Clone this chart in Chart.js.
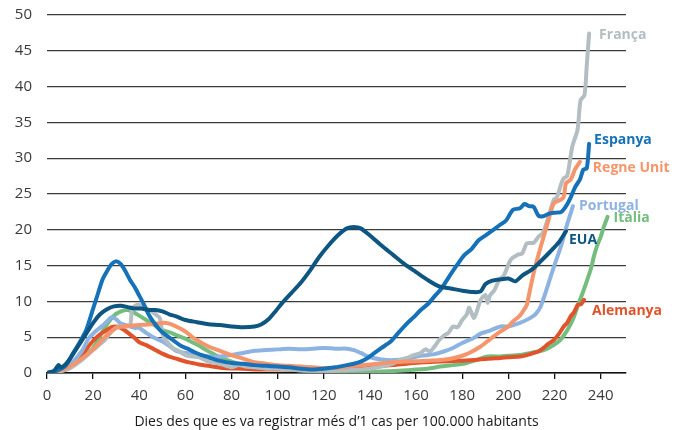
<!DOCTYPE html>
<html>
<head>
<meta charset="utf-8">
<script src="https://cdn.jsdelivr.net/npm/chart.js@4/dist/chart.umd.min.js"></script>
<style>
html,body{margin:0;padding:0;background:#fff;}
#wrap{width:688px;height:430px;}
</style>
</head>
<body>
<div id="wrap"><canvas id="c" width="688" height="430"></canvas></div>
<script>
// ---- data (days since >1 case per 100,000 inhabitants, cases per 100,000) ----
const yTicks = [0,5,10,15,20,25,30,35,40,45,50];
const xTicks = [0,20,40,60,80,100,120,140,160,180,200,220,240];

const euaDays = [0,3,5,6,8,10,13,16,20,23,26,29,32,35,38,41,44,47,50,53,56,60,65,70,75,80,85,90,93,96,99,102,106,110,114,118,122,126,130,133,136,140,145,150,155,160,165,170,175,180,185,188,190,193,197,200,203,206,210,214,218,222,225];
const euaVals = [0,0.3,1.1,0.8,1.2,2,3.5,5,7,8.2,8.9,9.3,9.4,9.2,9.0,9.0,8.8,8.8,8.6,8.2,7.9,7.4,7.1,6.8,6.7,6.5,6.4,6.5,6.8,7.5,8.6,9.8,11.2,12.6,14.3,16.2,17.8,19.2,20.2,20.4,20.2,19.2,17.8,16.5,15.2,14.1,13.0,12.1,11.8,11.5,11.3,11.4,12.4,12.9,13.1,13.2,12.8,13.6,14.4,15.6,16.9,18.3,19.8];

const espDays = [0,4,8,11,14,17,20,22,24,26,28,30,32,34,36,38,40,42,44,46,49,52,55,58,61,64,67,70,75,80,85,90,95,100,105,110,115,120,125,130,133,136,139,142,145,149,152,156,159,162,165,168,171,174,178,181,184,187,190,193,196,199,202,205,207,209,211,213,215,218,221,223,225,227,229,231,232.5,234,235];
const espVals = [0,0.3,1.0,2.6,4.2,6,9,11,13,14.2,15.2,15.6,15.2,14.2,13,12,10.8,9.6,8.2,7.2,6.0,5.2,4.5,3.8,3.4,2.9,2.5,2.2,1.7,1.4,1.3,1.1,1.0,0.9,0.8,0.6,0.5,0.6,0.8,1.1,1.3,1.6,2.1,2.8,3.5,4.4,5.5,6.9,7.8,8.8,9.6,10.7,11.8,13.3,15.2,16.5,17.3,18.5,19.2,19.9,20.6,21.3,22.8,23.0,23.6,23.3,23.2,22.0,21.9,22.3,22.4,22.5,23.3,24.5,26.0,27.0,28.4,28.6,32.0];

const fraDays = [0,5,10,15,20,25,28,31,34,36,37,39,41,43,45,47,49,50,51,53,55,57,60,63,66,70,75,80,83,86,90,95,100,110,120,130,140,145,150,153,156,159,162,164,166,168,170,172,174,176,178,180,182,183,185,186,188,190,191,192,194,196,198,201,204,206,208,211,213,215,217,219.7,221,223,224,225.5,227.7,230,231.3,233,234,235];
const fraVals = [0,0.2,0.7,1.8,3.2,4.6,5.8,6.5,6.5,6.6,9.0,9.5,9.4,9.0,8.7,8.2,7.6,5.5,4.8,4.0,3.4,3.1,2.5,2.3,2.2,1.6,1.3,0.8,1.1,0.9,0.8,0.6,0.6,0.4,0.3,0.4,0.6,0.9,1.3,1.8,2.1,2.5,2.8,3.3,3.0,3.7,4.6,5.2,5.6,6.5,6.4,7.4,8.2,9.1,7.7,8.3,10.2,10.9,9.8,10.8,11.6,13.0,13.6,15.8,16.5,16.7,18.1,18.2,19.0,19.6,21.4,24.2,24.5,26.5,27.2,27.5,31.6,34.0,38.1,38.8,43,47.4];

const runDays = [0,5,10,15,20,25,30,35,40,45,50,53,56,60,63,66,70,75,80,85,90,95,100,105,110,115,120,125,130,140,150,156,165,170.5,175,179,183,188,192,196.6,200,202,205,206.7,208,208.8,211,214,217,219.7,222.7,224,225,227,229,231];
const runVals = [0,0.3,0.9,2.0,3.3,5.0,6.3,6.6,6.7,6.8,7.0,6.9,6.5,5.8,5.0,4.4,3.7,3.1,2.5,2.0,1.5,1.3,1.1,1.0,0.9,0.8,0.7,0.7,0.9,1.2,1.5,1.6,1.7,1.8,2.0,2.3,2.8,3.7,4.7,5.8,6.5,7.2,8.0,8.8,9.5,10.7,14.0,17.6,20.9,23.7,24.2,24.6,26.5,27.0,28.5,29.5];

const porDays = [0,5,10,15,18,21,24,26,28,30,32,35,38,40,43,46,50,53,56,60,65,70,75,80,85,90,95,100,105,110,115,120,125,130,133,136,140,145,150,156,162,167.5,172,176,180,185,188,191,196.6,200,205,209.6,212,214,217,219.7,222.7,225.6,228];
const porVals = [0,0.3,1.2,3.0,4.8,5.8,6.6,7.2,7.8,7.5,6.9,6.6,6.3,6.3,5.6,5.0,4.4,3.8,3.1,2.8,2.6,2.3,2.3,2.5,2.8,3.1,3.2,3.3,3.4,3.3,3.4,3.5,3.4,3.4,3.2,2.8,2.2,1.9,1.8,2.0,2.4,2.6,3.0,3.5,4.2,4.9,5.5,5.8,6.5,6.5,7.0,7.7,8.3,9.3,12.1,14.8,17.6,20.9,23.3];

const itaDays = [0,5,10,15,20,23,26,29,32,35,38,41,44,47,50,53,56,60,63,66,69,73,77,80,84,90,98,105,112,120,127,135,145,156,165,170.5,176,182,186,191,196.6,200,205,209.6,215.3,218,221,223,225.6,228,230,232,234.2,236,237,238.5,240,241.5,243];
const itaVals = [0,0.2,0.7,2.0,3.5,5.2,6.8,8.0,8.6,8.8,8.4,7.8,7.2,6.6,6.0,5.7,5.3,4.8,4.3,3.8,3.2,2.5,1.9,1.6,1.2,0.9,0.7,0.5,0.3,0.2,0.1,0.1,0.2,0.4,0.6,0.9,1.1,1.4,1.8,2.3,2.3,2.4,2.5,2.8,3.2,3.6,4.2,4.8,6.0,7.5,9.3,11.0,13.0,14.8,16.2,17.8,19.0,20.5,21.8];

const aleDays = [0,5,10,15,20,23,26,28,30,32,34,36,38,40,43,46,50,53,56,60,63,66,70,76.5,85,91,100,105.5,112,120,126,131.5,141.5,150,156,163,170.5,178,185,191,196.6,200,205,208,211,213,215.3,217,219.7,222,224,225.5,227,228.5,230,231.5,232.8];
const aleVals = [0,0.2,0.8,2.5,4.5,5.4,6.0,6.4,6.5,6.3,5.9,5.4,4.9,4.3,3.9,3.4,2.7,2.3,2.0,1.6,1.4,1.2,1.0,0.7,0.6,0.5,0.5,0.5,0.4,0.4,0.5,0.6,0.9,1.1,1.3,1.5,1.6,1.7,1.8,2.0,2.1,2.2,2.3,2.5,2.8,3.0,3.5,4.0,4.6,5.5,6.5,7.0,7.9,8.5,9.5,9.6,10.2];

const seriesNames = ['EUA','Espanya','Regne Unit','França','Portugal','Alemanya','Itàlia'];
const axisTitle = 'Dies des que es va registrar més d\u20191 cas per 100.000 habitants';

// ---- styling ----
const colors = {
  'EUA':'#0e5682','Espanya':'#1672b8','Regne Unit':'#f5956b','França':'#b3bec2',
  'Portugal':'#8db3e2','Alemanya':'#e1532a','Itàlia':'#74bd7e'
};
// label offsets from the last point of each line (px)
const labelOffsets = {
  'França':[10,1],'Espanya':[5,-4],'Regne Unit':[13,6],'Portugal':[6,0],
  'Itàlia':[6,1],'EUA':[3,9],'Alemanya':[8,11]
};
const seriesData = {
  'EUA':[euaDays,euaVals],'Espanya':[espDays,espVals],'Regne Unit':[runDays,runVals],
  'França':[fraDays,fraVals],'Portugal':[porDays,porVals],'Alemanya':[aleDays,aleVals],
  'Itàlia':[itaDays,itaVals]
};

const datasets = seriesNames.map(n => ({
  label: n,
  data: seriesData[n][0].map((d,i) => ({x:d, y:seriesData[n][1][i]})),
  borderColor: colors[n],
  backgroundColor: colors[n],
  borderWidth: 4,
  pointRadius: 0,
  tension: 0.25,
  fill: false,
  borderJoinStyle: 'round',
  borderCapStyle: 'round'
}));

const endLabels = {
  id: 'endLabels',
  afterDatasetsDraw(chart) {
    const ctx = chart.ctx;
    const xs = chart.scales.x, ys = chart.scales.y;
    ctx.save();
    ctx.font = 'bold 14px "Open Sans"';
    ctx.textBaseline = 'middle';
    ctx.textAlign = 'left';
    chart.data.datasets.forEach(ds => {
      const last = ds.data[ds.data.length-1];
      const off = labelOffsets[ds.label];
      ctx.fillStyle = ds.borderColor;
      ctx.fillText(ds.label, xs.getPixelForValue(last.x) + off[0], ys.getPixelForValue(last.y) + off[1]);
    });
    ctx.restore();
  }
};

new Chart(document.getElementById('c'), {
  type: 'line',
  data: { datasets },
  options: {
    responsive: false,
    animation: false,
    events: [],
    layout: { padding: { top: 15, right: 62, left: 0, bottom: 0 } },
    plugins: { legend: { display: false }, tooltip: { enabled: false } },
    scales: {
      x: {
        type: 'linear', min: 0, max: 251,
        afterBuildTicks: s => { s.ticks = xTicks.map(v => ({value: v})); },
        afterFit: s => { s.height = 57; s.paddingLeft = 0; s.paddingRight = 0; },
        grid: { drawOnChartArea: false, drawTicks: true, tickLength: 6, color: '#111', lineWidth: 1.3 },
        border: { display: true, color: '#111', width: 1.5 },
        ticks: { color: '#3a3a3a', font: { family: 'Open Sans', size: 15 }, padding: 8, maxRotation: 0, autoSkip: false },
        title: { display: true, text: axisTitle, color: '#1a1a1a', font: { family: 'Open Sans', size: 14 }, padding: { top: 2, bottom: 0 } }
      },
      y: {
        min: 0, max: 50,
        afterBuildTicks: s => { s.ticks = yTicks.map(v => ({value: v})); },
        afterFit: s => { s.width = 47; s.paddingTop = 0; s.paddingBottom = 0; },
        grid: { drawTicks: false, color: '#3c3c3c', lineWidth: 1.3 },
        border: { display: false },
        ticks: { color: '#3a3a3a', font: { family: 'Open Sans', size: 15 }, padding: 15 }
      }
    }
  },
  plugins: [endLabels]
});
</script>
</body>
</html>
